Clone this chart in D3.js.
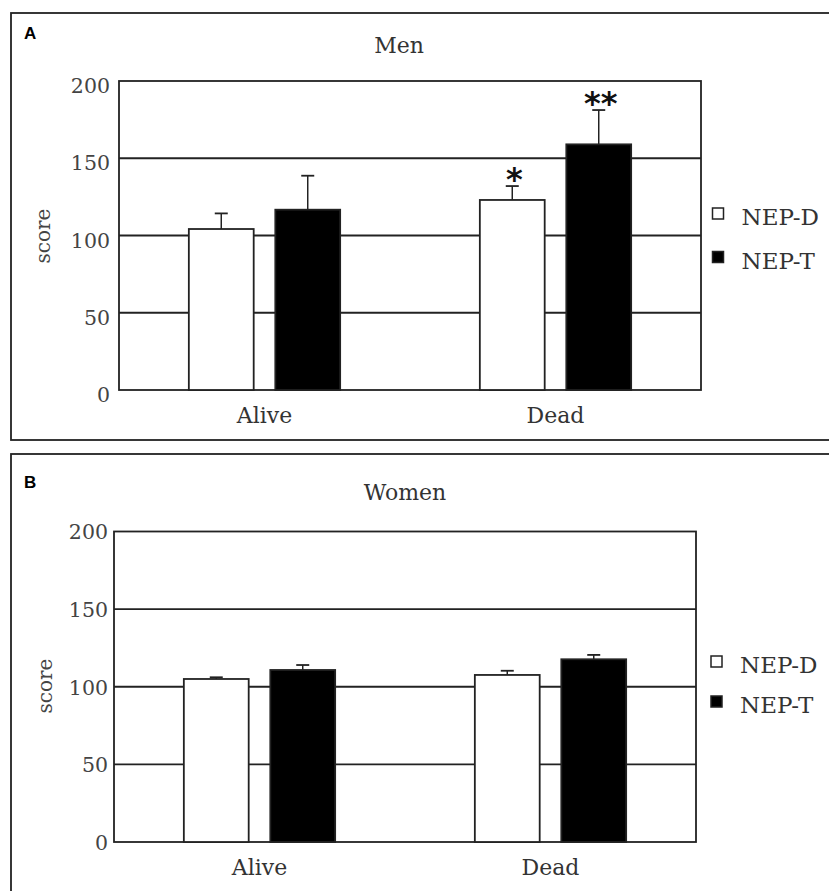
<!DOCTYPE html>
<html lang="en">
<head>
  <meta charset="UTF-8">
  <title>NEP scores</title>
  <script src="https://cdnjs.cloudflare.com/ajax/libs/d3/7.8.5/d3.min.js"></script>
  <style>
    body { margin: 0; background: #fff; }
    svg text { font-family: "DejaVu Serif", serif; fill: #333; }
  </style>
</head>
<body>
  <div id="wrapper"></div>
  <script>
    // data
    const categories = ['Alive', 'Dead']
    const series = ['NEP-D', 'NEP-T']
    const yTicks = [0, 50, 100, 150, 200]

    const menNepD = [104.2, 123]
    const menNepT = [116.7, 159]
    const menNepDErr = [10.1, 9]
    const menNepTErr = [22, 22.2]
    const menNepDMark = ['', '*']
    const menNepTMark = ['', '**']

    const womenNepD = [105, 107.6]
    const womenNepT = [110.8, 117.7]
    const womenNepDErr = [1.1, 2.7]
    const womenNepTErr = [3.2, 2.8]
    const womenNepDMark = ['', '']
    const womenNepTMark = ['', '']

    const width = 829
    const height = 891

    const svg = d3.select('#wrapper')
      .append('svg')
        .attr('width', width)
        .attr('height', height)

    const toRows = (d, t, dErr, tErr, dMark, tMark) => categories.map((c, i) => ({
      category: c,
      values: [
        { key: series[0], value: d[i], err: dErr[i], mark: dMark[i] },
        { key: series[1], value: t[i], err: tErr[i], mark: tMark[i] },
      ],
    }))

    const panels = [
      {
        letter: 'A', title: 'Men',
        rows: toRows(menNepD, menNepT, menNepDErr, menNepTErr, menNepDMark, menNepTMark),
        boxTop: 13, boxBottom: 440,
        letterY: 39, titleX: 399, titleY: 53,
        plot: { left: 119, top: 81, right: 701, bottom: 390 },
        tickPad: 9, tickDy: '0.57em',
        scoreX: 44, scoreY: 236,
        legendX: 712.5, legendY: 208, legendGap: 43.5,
      },
      {
        letter: 'B', title: 'Women',
        rows: toRows(womenNepD, womenNepT, womenNepDErr, womenNepTErr, womenNepDMark, womenNepTMark),
        boxTop: 454, boxBottom: 900,
        letterY: 488, titleX: 405, titleY: 500,
        plot: { left: 114, top: 531.5, right: 696, bottom: 842 },
        tickPad: 6, tickDy: '0.36em',
        scoreX: 46, scoreY: 686,
        legendX: 711, legendY: 656, legendGap: 40,
      },
    ]

    const drawPanel = p => {
      const g = svg.append('g')
      const w = p.plot.right - p.plot.left
      const h = p.plot.bottom - p.plot.top

      // outer frame of the panel (runs off the right edge)
      g.append('rect')
        .attr('x', 11)
        .attr('y', p.boxTop)
        .attr('width', 840)
        .attr('height', p.boxBottom - p.boxTop)
        .attr('fill', 'none')
        .attr('stroke', '#222')
        .attr('stroke-width', 1.8)

      g.append('text')
        .attr('x', 24)
        .attr('y', p.letterY)
        .style('font-family', '"Liberation Sans", Arial, sans-serif')
        .style('font-weight', 'bold')
        .style('font-size', '17px')
        .style('fill', '#000')
        .text(p.letter)

      g.append('text')
        .attr('x', p.titleX)
        .attr('y', p.titleY)
        .attr('text-anchor', 'middle')
        .style('font-size', '22px')
        .text(p.title)

      const bounds = g.append('g')
        .attr('transform', `translate(${p.plot.left},${p.plot.top})`)

      const yScale = d3.scaleLinear()
        .domain([0, 200])
        .range([h, 0])

      const x0 = d3.scaleBand()
        .domain(categories)
        .range([0, w])
        .paddingInner(0.48)
        .paddingOuter(0.24)

      const x1 = d3.scaleBand()
        .domain(series)
        .range([0, x0.bandwidth()])
        .paddingInner(0.25)

      const color = d3.scaleOrdinal()
        .domain(series)
        .range(['#fff', '#000'])

      // grid lines
      bounds.append('g')
        .selectAll('line')
        .data(yTicks.filter(t => t > 0 && t < 200))
        .join('line')
          .attr('x1', 0)
          .attr('x2', w)
          .attr('y1', d => yScale(d))
          .attr('y2', d => yScale(d))
          .attr('stroke', '#222')
          .attr('stroke-width', 1.8)

      bounds.append('rect')
        .attr('width', w)
        .attr('height', h)
        .attr('fill', 'none')
        .attr('stroke', '#222')
        .attr('stroke-width', 1.8)

      const groups = bounds.append('g')
        .selectAll('g')
        .data(p.rows)
        .join('g')
          .attr('transform', d => `translate(${x0(d.category)},0)`)

      const bars = groups.selectAll('g')
        .data(d => d.values)
        .join('g')

      // error bars (upper half only)
      bars.append('line')
        .attr('x1', d => x1(d.key) + x1.bandwidth() / 2)
        .attr('x2', d => x1(d.key) + x1.bandwidth() / 2)
        .attr('y1', d => yScale(d.value))
        .attr('y2', d => yScale(d.value + d.err))
        .attr('stroke', '#222')
        .attr('stroke-width', 1.5)

      bars.append('line')
        .attr('x1', d => x1(d.key) + x1.bandwidth() / 2 - 6.5)
        .attr('x2', d => x1(d.key) + x1.bandwidth() / 2 + 6.5)
        .attr('y1', d => yScale(d.value + d.err))
        .attr('y2', d => yScale(d.value + d.err))
        .attr('stroke', '#222')
        .attr('stroke-width', 1.8)

      bars.append('rect')
        .attr('x', d => x1(d.key))
        .attr('y', d => yScale(d.value))
        .attr('width', x1.bandwidth())
        .attr('height', d => h - yScale(d.value))
        .attr('fill', d => color(d.key))
        .attr('stroke', '#222')
        .attr('stroke-width', 1.8)

      // significance stars
      bars.filter(d => d.mark)
        .append('text')
          .attr('x', d => x1(d.key) + x1.bandwidth() / 2 + 2)
          .attr('y', d => yScale(d.value + d.err) + 4)
          .attr('text-anchor', 'middle')
          .style('font-family', '"DejaVu Sans", sans-serif')
          .style('font-weight', 'bold')
          .style('font-size', '32px')
          .style('fill', '#111')
          .text(d => d.mark)

      // axes
      const yAxis = bounds.append('g')
        .call(d3.axisLeft(yScale).tickValues(yTicks).tickSize(0).tickPadding(p.tickPad))
      yAxis.select('.domain').remove()
      yAxis.selectAll('text')
        .attr('dy', p.tickDy)
        .style('font-family', '"DejaVu Serif", serif')
        .style('font-size', '20.5px')
        .style('fill', '#444')

      const xAxis = bounds.append('g')
        .attr('transform', `translate(0,${h})`)
        .call(d3.axisBottom(x0).tickSize(0).tickPadding(17))
      xAxis.select('.domain').remove()
      xAxis.selectAll('text')
        .style('font-family', '"DejaVu Serif", serif')
        .style('font-size', '22px')
        .style('fill', '#333')

      g.append('text')
        .attr('transform', `translate(${p.scoreX},${p.scoreY}) rotate(-90)`)
        .attr('text-anchor', 'middle')
        .attr('dy', '0.3em')
        .style('font-size', '20px')
        .style('fill', '#444')
        .text('score')

      // legend
      const legend = g.append('g')
        .selectAll('g')
        .data(series)
        .join('g')
          .attr('transform', (d, i) => `translate(${p.legendX},${p.legendY + i * p.legendGap})`)

      legend.append('rect')
        .attr('width', 11)
        .attr('height', 11)
        .attr('fill', d => color(d))
        .attr('stroke', '#222')
        .attr('stroke-width', 1.5)

      legend.append('text')
        .attr('x', 29)
        .attr('y', 17)
        .style('font-size', '23px')
        .text(d => d)
    }

    panels.forEach(drawPanel)
  </script>
</body>
</html>
